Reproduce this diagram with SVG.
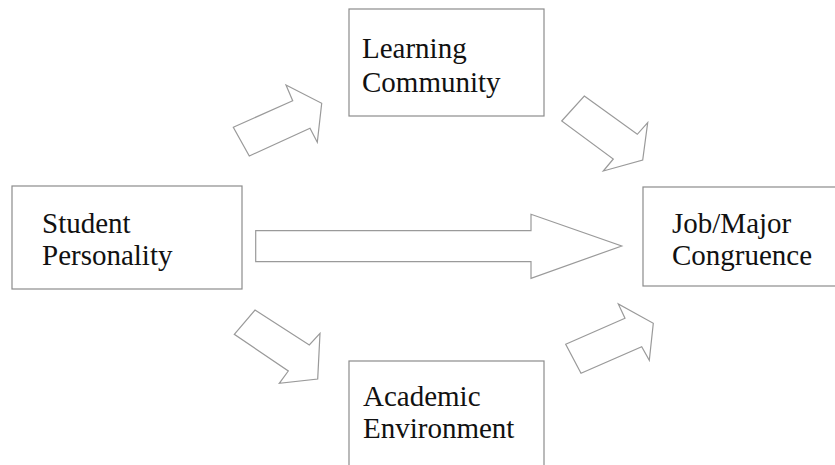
<svg xmlns="http://www.w3.org/2000/svg" width="835" height="465" viewBox="0 0 835 465">
<style>
.box{fill:#fff;stroke:#8c8c8c;stroke-width:1.2}
.arr{fill:#fff;stroke:#9a9a9a;stroke-width:1.2;stroke-linejoin:miter}
.t{font-family:"Liberation Serif","Times New Roman",serif;font-size:29px;fill:#111}
</style>
<rect width="835" height="465" fill="#fff"/>
<g id="connectors">
<polygon class="arr" points="255.7,230.7 531,230.7 531,214.3 621.7,246 531,278.3 531,261.7 255.7,261.7"/>
<polygon class="arr" points="233.3,127.3 292.7,100.7 286,85 321.7,103.3 317.3,142.3 310,128.3 249.3,156"/>
<polygon class="arr" points="584.3,96 637.3,134.3 647.7,122.7 642.7,160 603.3,171 613.3,159 561.7,121"/>
<polygon class="arr" points="255,310 309.3,345 320,333.3 317.7,379 279.3,383.3 288.3,371 234.3,334.3"/>
<polygon class="arr" points="565.7,344.3 625,318.3 618.3,304 653.3,323.3 649.3,360.3 641.7,346.7 581,373.3"/>
</g>
<g id="learning-community">
<rect class="box" x="349" y="9" width="195" height="107"/>
<text class="t" x="362" y="58">Learning</text>
<text class="t" x="362" y="92">Community</text>
</g>
<g id="student-personality">
<rect class="box" x="12" y="186" width="230" height="103"/>
<text class="t" x="42" y="233">Student</text>
<text class="t" x="42" y="265">Personality</text>
</g>
<g id="job-major-congruence">
<rect class="box" x="643" y="187" width="200" height="99"/>
<text class="t" x="672" y="233">Job/Major</text>
<text class="t" x="672" y="265">Congruence</text>
</g>
<g id="academic-environment">
<rect class="box" x="349" y="361" width="195" height="120"/>
<text class="t" x="363" y="406">Academic</text>
<text class="t" x="363" y="438">Environment</text>
</g>
</svg>
